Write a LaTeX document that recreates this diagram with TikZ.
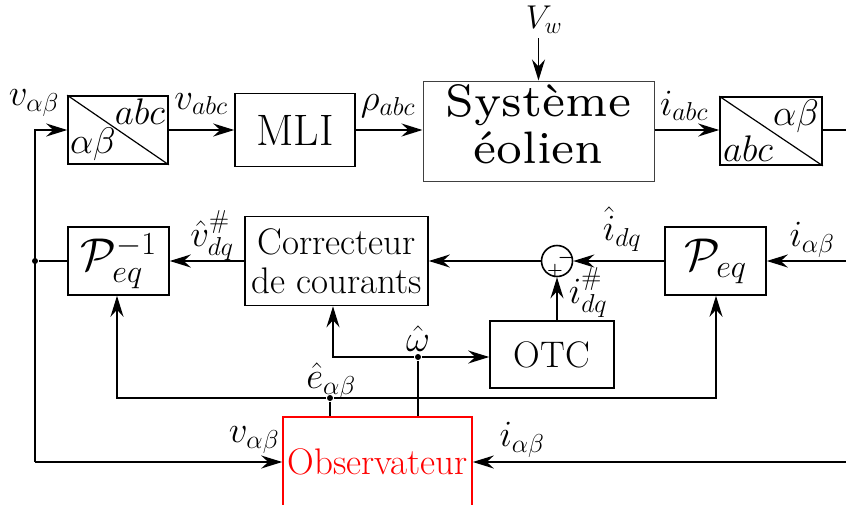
\RequirePackage{fix-cm}
\documentclass[tikz,border=0pt]{standalone}
\usepackage{amsmath}
\usepackage{graphicx}
\usetikzlibrary{arrows.meta}
\begin{document}
\begin{tikzpicture}[x=1pt,y=-1pt,
  line width=1.6pt,
  >={Stealth[length=21pt,width=13pt,inset=7pt]},
  blk/.style={draw, line width=1.6pt, inner sep=0pt, align=center, font=\fontsize{37}{44}\selectfont},
  lbl/.style={inner sep=0pt, font=\fontsize{37}{40}\selectfont},
  sgn/.style={inner sep=0pt, font=\fontsize{18}{18}\selectfont\boldmath},
  dot/.style={circle, fill, inner sep=0pt, minimum size=6pt}]
\useasboundingbox (0,0) rectangle (846,504);

% top row
\node[blk, minimum width=100pt, minimum height=68pt] (t1) at (118,130) {};
\draw[line width=1.2pt] (t1.north west) -- (t1.south east);
\node[lbl, anchor=north east] (t1a) at ([shift={(-3,3)}]t1.north east) {$abc$};
\node[lbl, anchor=south west] (t1b) at ([shift={(2,-3)}]t1.south west) {$\alpha\beta$};

\node[blk, minimum width=120pt, minimum height=73pt, font=\fontsize{44}{48}\selectfont] (mli) at (295,130) {MLI};
\node[blk, draw=black!75, line width=1pt, minimum width=231pt, minimum height=100pt] (se) at (538.5,131)
  {\scalebox{6.5}{\fontsize{7}{7.2}\selectfont\begin{tabular}{@{}c@{}}Système\\éolien\end{tabular}}};

\node[blk, minimum width=102pt, minimum height=68pt] (t2) at (771,131) {};
\draw[line width=1.2pt] (t2.north west) -- (t2.south east);
\node[lbl, anchor=north east] (t2a) at ([shift={(-3,3)}]t2.north east) {$\alpha\beta$};
\node[lbl, anchor=south west] (t2b) at ([shift={(3,-4)}]t2.south west) {$abc$};

% middle row
\node[blk, minimum width=101pt, minimum height=68pt, font=\fontsize{46}{48}\selectfont] (pinv) at (118.5,261) {$\mathcal{P}_{eq}^{-1}$};
\node[blk, minimum width=183pt, minimum height=89pt] (corr) at (336.5,261) {Correcteur\\[-5pt]de courants};
\node[draw, circle, line width=1.6pt, minimum size=31pt, inner sep=0pt] (s) at (557,261) {};
\node[sgn] (sm) at (566,258) {$-$};
\node[sgn] (sp) at (555,271) {$+$};
\node[blk, minimum width=101pt, minimum height=68pt, font=\fontsize{46}{48}\selectfont] (peq) at (715.5,261) {$\mathcal{P}_{eq}$};
\node[blk, minimum width=124pt, minimum height=67pt] (otc) at (552,354.5) {OTC};

% observer
\node[blk, draw=red, text=red, minimum width=189pt, minimum height=90pt] (obs) at (377.5,462) {Observateur};

% coordinates
\coordinate (vw) at (538.5,38);
\coordinate (r1) at (846,130);
\coordinate (r2) at (846,261);
\coordinate (r3) at (846,462);
\coordinate (lb) at (35,462);
\node[dot] (d1) at (35,261) {};
\node[dot] (w) at (418,357) {};
\coordinate (wc) at (333,357);
\node[dot] (ed) at (330,398) {};
\coordinate (e1) at (117,398);
\coordinate (e2) at (716,398);

% connectors
\draw[->] (vw) -- (se.north);
\draw[->] (lb) |- (t1.west);
\draw[->] (t1.east) -- (mli.west);
\draw[->] (mli.east) -- (mli.east -| se.west);
\draw[->] (se.east |- r1) -- (t2.west |- r1);
\draw (t2.east |- r1) -- (r1);

\draw (d1) -- (pinv.west);
\draw[->] (corr.west) -- (pinv.east);
\draw[->] (s.west) -- (corr.east);
\draw[->] (peq.west) -- (s.east);
\draw[->] (r2) -- (peq.east);
\draw[->] (s.south |- otc.north) -- (s.south);

\draw[->] (w) -- (w -| otc.west);
\draw[->] (w) -- (wc) -- (wc |- corr.south);
\draw (w) -- (w |- obs.north);

\draw[->] (ed) -- (e1) -- (e1 |- pinv.south);
\draw[->] (ed) -- (e2) -- (e2 |- peq.south);
\draw (ed) -- (ed |- obs.north);

\draw[->] (lb) -- (obs.west);
\draw[->] (r3) -- (obs.east);

% labels
\node[lbl, font=\fontsize{33}{36}\selectfont] (lvw) at (544,20) {$V_w$};
\node[lbl] (lv1) at (34,103) {$v_{\alpha\beta}$};
\node[lbl] (lvabc) at (201,104) {$v_{abc}$};
\node[lbl] (lrho) at (388,106) {$\rho_{abc}$};
\node[lbl] (liabc) at (684,106) {$i_{abc}$};
\node[lbl] (lvdq) at (212,236) {$\hat{v}_{dq}^{\#}$};
\node[lbl] (lidq) at (622,229) {$\hat{i}_{dq}$};
\node[lbl] (lidqs) at (588,293) {$i_{dq}^{\#}$};
\node[lbl] (liab) at (812,240) {$i_{\alpha\beta}$};
\node[lbl] (lw) at (418,339) {$\hat{\omega}$};
\node[lbl] (le) at (331,381) {$\hat{e}_{\alpha\beta}$};
\node[lbl] (lv2) at (254,440) {$v_{\alpha\beta}$};
\node[lbl] (li2) at (522,440) {$i_{\alpha\beta}$};
\end{tikzpicture}
\end{document}
